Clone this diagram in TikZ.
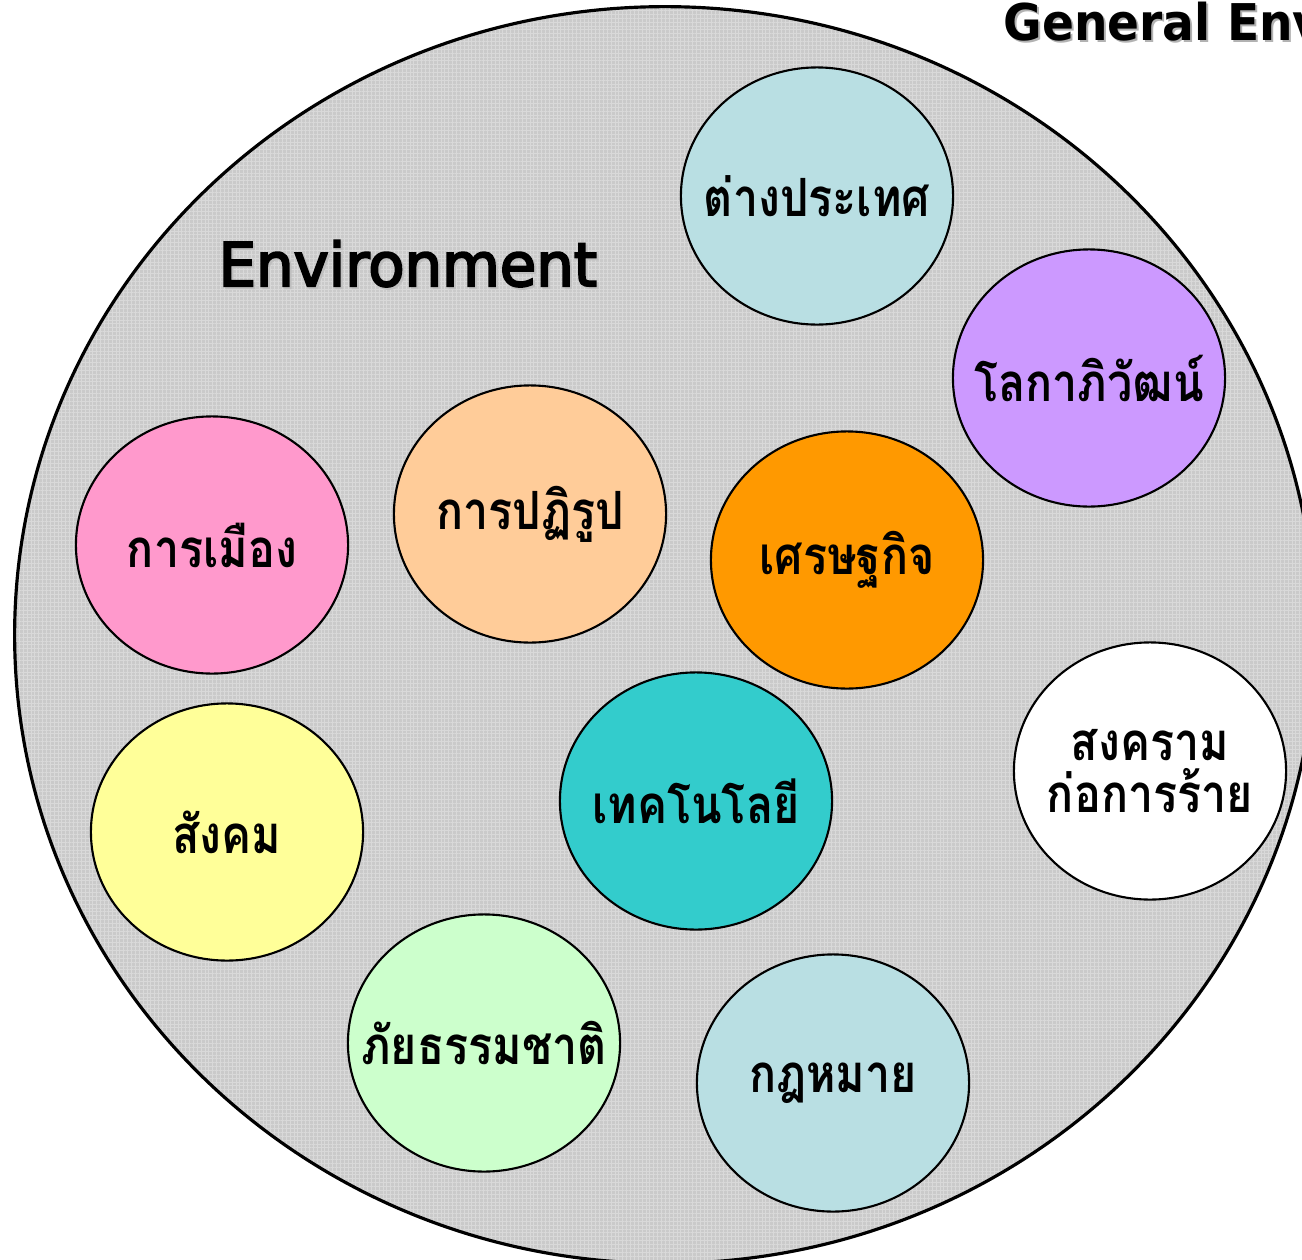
\documentclass[tikz,border=0pt]{standalone}
\usepackage{fontspec}
\usetikzlibrary{shapes.geometric,patterns.meta}
\newfontfamily\thaifont[Script=Thai]{Loma}
\newfontfamily\titlefont{DejaVu Sans}
\newfontfamily\headfont[FakeBold=3.5]{DejaVu Sans}
\definecolor{envgray}{HTML}{CACACA}
\definecolor{envgrid}{HTML}{D9D9D9}
\definecolor{paleblue}{HTML}{B9DFE3}
\definecolor{lilac}{HTML}{CC99FF}
\definecolor{peach}{HTML}{FFCC99}
\definecolor{pink}{HTML}{FF99CC}
\definecolor{orange}{HTML}{FF9900}
\definecolor{teal}{HTML}{33CCCC}
\definecolor{paleyellow}{HTML}{FFFF99}
\definecolor{palegreen}{HTML}{CCFFCC}
\begin{document}
\begin{tikzpicture}[x=0.01cm,y=-0.01cm,
  bubble/.style={ellipse, draw=black, line width=0.6pt,
    minimum width=2.72cm, minimum height=2.57cm, inner sep=0pt},
  thai/.style={font=\thaifont\bfseries\fontsize{15}{15}\selectfont, align=center, xscale=0.85},
  heading/.style={font=\headfont\fontsize{17.1}{20}\selectfont, xscale=0.985, anchor=base west, inner sep=0pt},
  corner/.style={font=\titlefont\bfseries\fontsize{14.4}{15}\selectfont, xscale=0.93, anchor=base west, inner sep=0pt}]
\useasboundingbox (0,0) rectangle (1302,1260);
\fill[white] (0,0) rectangle (1302,1260);

% the general environment
\path[fill=envgray] (665,635) ellipse [x radius=6.5cm, y radius=6.28cm];
\path[pattern={Lines[distance=1.1pt, line width=0.25pt]}, pattern color=envgrid]
  (665,635) ellipse [x radius=6.5cm, y radius=6.28cm];
\path[pattern={Lines[angle=90, distance=1.1pt, line width=0.25pt]}, pattern color=envgrid]
  (665,635) ellipse [x radius=6.5cm, y radius=6.28cm];
\draw[line width=0.9pt] (665,635) ellipse [x radius=6.5cm, y radius=6.28cm];

% titles with drop shadow
\node[corner, text=black!30] at (1005,42) {General Environment};
\node[corner] (gentitle) at (1003,40) {General Environment};
\node[heading, text=black!25] at (220,288) {Environment};
\node[heading] (envtitle) at (218,286) {Environment};

% factors
\node[bubble, fill=paleblue] (foreign) at (817,196) {};
\node[thai] at (foreign) {ต่างประเทศ};
\node[bubble, fill=lilac] (global) at (1089,378) {};
\node[thai] at (global) {โลกาภิวัฒน์};
\node[bubble, fill=peach] (reform) at (530,514) {};
\node[thai] at (reform) {การปฏิรูป};
\node[bubble, fill=pink] (politics) at (212,545) {};
\node[thai] at (politics) {การเมือง};
\node[bubble, fill=orange] (economy) at (847,560) {};
\node[thai] at (economy) {เศรษฐกิจ};
\node[bubble, fill=white] (war) at (1150,771) {};
\node[thai] at (war) {สงคราม\\ก่อการร้าย};
\node[bubble, fill=teal] (tech) at (696,801) {};
\node[thai] at (tech) {เทคโนโลยี};
\node[bubble, fill=paleyellow] (society) at (227,832) {};
\node[thai] at (society) {สังคม};
\node[bubble, fill=palegreen] (disaster) at (484,1043) {};
\node[thai] at (disaster) {ภัยธรรมชาติ};
\node[bubble, fill=paleblue] (law) at (833,1083) {};
\node[thai] at (law) {กฎหมาย};
\end{tikzpicture}
\end{document}
